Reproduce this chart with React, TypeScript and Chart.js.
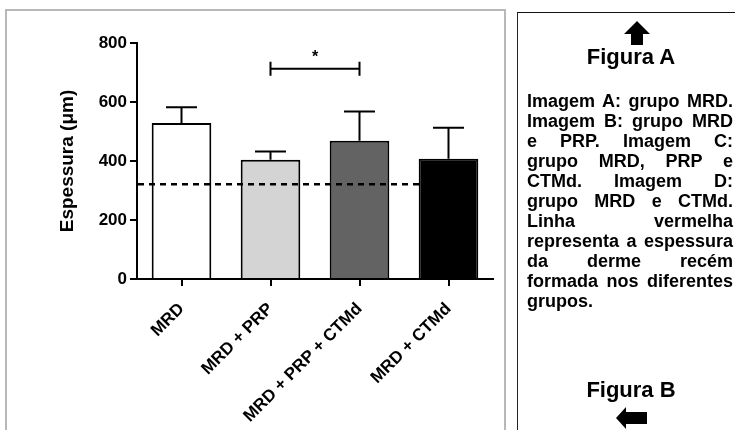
import React, { useEffect, useRef } from 'react';
import { Chart, registerables } from 'chart.js';

Chart.register(...registerables);

const categories = ['MRD', 'MRD + PRP', 'MRD + PRP + CTMd', 'MRD + CTMd'];
const meanValues = [529, 404, 469, 408];
const errorValues = [53, 28, 99, 105];
const barFills = ['#ffffff', '#d4d4d4', '#636363', '#000000'];
const yTickValues = [0, 200, 400, 600, 800];
const dashedLineValue = 321;
const bracketIndices = [1, 2];
const bracketValue = 713;
const bracketLabel = '*';
const yAxisTitle = 'Espessura (\u03bcm)';

const panelTitleA = 'Figura A';
const panelTitleB = 'Figura B';
const panelLines = [
  'Imagem A: grupo MRD.',
  'Imagem B: grupo MRD',
  'e PRP. Imagem C:',
  'grupo MRD, PRP e',
  'CTMd. Imagem D:',
  'grupo MRD e CTMd.',
  'Linha vermelha',
  'representa a espessura',
  'da derme recém',
  'formada nos diferentes',
  'grupos.',
];

const FONT = '"Liberation Sans", Arial, Helvetica, sans-serif';

const annotationPlugin = {
  id: 'annotations',
  afterDatasetsDraw(chart: any) {
    const { ctx, chartArea, scales } = chart;
    const xs = scales.x;
    const ys = scales.y;
    const meta = chart.getDatasetMeta(0);
    ctx.save();
    ctx.strokeStyle = '#000';
    ctx.fillStyle = '#000';
    ctx.lineWidth = 2;
    ctx.lineCap = 'butt';
    // error bars
    meta.data.forEach((bar: any, i: number) => {
      const cx = bar.x;
      const yb = ys.getPixelForValue(meanValues[i]);
      const yt = ys.getPixelForValue(meanValues[i] + errorValues[i]);
      ctx.beginPath();
      ctx.moveTo(cx, yb);
      ctx.lineTo(cx, yt);
      ctx.moveTo(cx - 15.5, yt);
      ctx.lineTo(cx + 15.5, yt);
      ctx.stroke();
    });
    // dashed reference line
    const yd = ys.getPixelForValue(dashedLineValue);
    ctx.setLineDash([6, 5]);
    ctx.lineWidth = 2.5;
    ctx.beginPath();
    ctx.moveTo(chartArea.left + 1, yd);
    ctx.lineTo(xs.getPixelForValue(3), yd);
    ctx.stroke();
    ctx.setLineDash([]);
    // significance bracket
    const x1 = xs.getPixelForValue(bracketIndices[0]);
    const x2 = xs.getPixelForValue(bracketIndices[1]);
    const yb = ys.getPixelForValue(bracketValue);
    ctx.lineWidth = 2;
    ctx.beginPath();
    ctx.moveTo(x1, yb);
    ctx.lineTo(x2, yb);
    ctx.moveTo(x1, yb - 7);
    ctx.lineTo(x1, yb + 7);
    ctx.moveTo(x2, yb - 7);
    ctx.lineTo(x2, yb + 7);
    ctx.stroke();
    ctx.font = `bold 16px ${FONT}`;
    ctx.textAlign = 'center';
    ctx.textBaseline = 'alphabetic';
    ctx.fillText(bracketLabel, (x1 + x2) / 2, yb - 7);
    ctx.restore();
  },
};

function App() {
  const canvasRef = useRef<HTMLCanvasElement | null>(null);

  useEffect(() => {
    const canvas = canvasRef.current;
    if (!canvas) return;
    const tickFont = { family: FONT, size: 17, weight: 'bold' as const };
    const chart = new Chart(canvas, {
      type: 'bar',
      data: {
        labels: categories,
        datasets: [
          {
            data: meanValues,
            backgroundColor: barFills,
            borderColor: '#000',
            borderWidth: 2,
            borderSkipped: 'start',
            barPercentage: 0.67,
            categoryPercentage: 1,
          },
        ],
      },
      options: {
        animation: false,
        responsive: false,
        maintainAspectRatio: false,
        devicePixelRatio: 1,
        layout: { padding: { left: 50, right: 17, top: 43, bottom: 0 } },
        plugins: {
          legend: { display: false },
          tooltip: { enabled: false },
          title: { display: false },
        },
        scales: {
          x: {
            offset: true,
            grid: {
              display: true,
              drawOnChartArea: false,
              drawTicks: true,
              tickLength: 7,
              color: '#000',
              lineWidth: 2,
              offset: false,
            },
            border: { display: true, color: '#000', width: 2 },
            ticks: {
              color: '#000',
              font: tickFont,
              maxRotation: 45,
              minRotation: 45,
              padding: 13,
              autoSkip: false,
            },
            afterFit: (s: any) => {
              s.height = 151;
            },
          },
          y: {
            min: 0,
            max: 800,
            afterBuildTicks: (s: any) => {
              s.ticks = yTickValues.map((v) => ({ value: v }));
            },
            grid: {
              display: true,
              drawOnChartArea: false,
              drawTicks: true,
              tickLength: 7,
              color: '#000',
              lineWidth: 2,
            },
            border: { display: true, color: '#000', width: 2 },
            ticks: { color: '#000', font: tickFont, padding: 3 },
            title: {
              display: true,
              text: yAxisTitle,
              color: '#000',
              font: { family: FONT, size: 19, weight: 'bold' },
              padding: { top: 6, bottom: 0 },
            },
            afterFit: (s: any) => {
              s.width = 87;
            },
          },
        },
      },
      plugins: [annotationPlugin],
    });
    return () => chart.destroy();
  }, []);

  const lineStyle = (last: boolean): React.CSSProperties => ({
    width: 206,
    height: 20,
    whiteSpace: 'nowrap',
    textAlign: last ? 'left' : 'justify',
    textAlignLast: last ? 'left' : 'justify',
  } as React.CSSProperties);

  const headStyle: React.CSSProperties = {
    position: 'absolute',
    left: 560,
    width: 140,
    textAlign: 'center',
    fontSize: 22,
    lineHeight: '22px',
    fontWeight: 'bold',
    whiteSpace: 'nowrap',
  };

  return (
    <div
      style={{
        position: 'fixed',
        left: 0,
        top: 0,
        width: 735,
        height: 430,
        overflow: 'hidden',
        background: '#fff',
        fontFamily: FONT,
        color: '#000',
      }}
    >
      <div
        style={{
          position: 'absolute',
          left: 5,
          top: 9,
          width: 497,
          height: 440,
          border: '2px solid #b8b8b8',
        }}
      />
      <canvas
        ref={canvasRef}
        width={510}
        height={430}
        style={{ position: 'absolute', left: 0, top: 0, width: 510, height: 430 }}
      />
      <div
        style={{
          position: 'absolute',
          left: 517,
          top: 12,
          width: 230,
          height: 430,
          borderLeft: '1px solid #222',
          borderTop: '1px solid #111',
        }}
      />
      <svg
        width={735}
        height={430}
        style={{ position: 'absolute', left: 0, top: 0 }}
      >
        <polygon points="637,21 650,34 643,34 643,45 631,45 631,34 624,34" fill="#000" />
        <polygon points="616,418 626,407 626,412 647,412 647,424 626,424 626,429" fill="#000" />
      </svg>
      <div style={{ ...headStyle, top: 46, left: 561 }}>{panelTitleA}</div>
      <div
        style={{
          position: 'absolute',
          left: 527,
          top: 91,
          fontSize: 18,
          lineHeight: '20px',
          fontWeight: 'bold',
        }}
      >
        {panelLines.map((t, i) => (
          <div key={i} style={lineStyle(i === panelLines.length - 1)}>
            {t}
          </div>
        ))}
      </div>
      <div style={{ ...headStyle, top: 379, left: 561 }}>{panelTitleB}</div>
    </div>
  );
}

export default App;
